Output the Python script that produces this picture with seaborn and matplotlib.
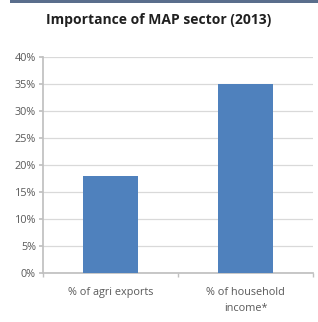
import matplotlib
matplotlib.use("Agg")
import matplotlib.pyplot as plt
import seaborn as sns
import pandas as pd
from matplotlib.ticker import PercentFormatter, FixedLocator

categories = ["% of agri exports", "% of household\nincome*"]
values = [0.18, 0.35]
yticks = [0, 0.05, 0.10, 0.15, 0.20, 0.25, 0.30, 0.35, 0.40]
title = "Importance of MAP sector (2013)"

sns.set_theme(style="white")
plt.rcParams['font.family'] = ['Open Sans', 'DejaVu Sans']

df = pd.DataFrame({"cat": categories, "val": values})

fig = plt.figure(figsize=(3.18, 3.22), dpi=100)
fig.patch.set_facecolor("white")
ax = fig.add_axes([0.135, 0.152, 0.849, 0.671])

sns.barplot(data=df, x="cat", y="val", color="#4f81bd", saturation=1,
            width=0.41, ax=ax, zorder=3, linewidth=0)

ax.set_ylim(0, 0.40)
ax.set_xlim(-0.5, 1.5)
ax.set_yticks(yticks)
ax.yaxis.set_major_formatter(PercentFormatter(1.0, decimals=0))
ax.grid(axis="y", color="#d9d9d9", linewidth=0.9, zorder=0)
ax.set_axisbelow(True)
ax.set_xlabel("")
ax.set_ylabel("")
for s in ["top", "right"]:
    ax.spines[s].set_visible(False)
ax.spines["left"].set_color("#c0c0c0")
ax.spines["bottom"].set_color("#c0c0c0")
ax.tick_params(axis="y", left=True, length=3, color="#c0c0c0", labelsize=7.8, labelcolor="#595959", pad=2)
ax.tick_params(axis="x", bottom=False, labelsize=7.8, labelcolor="#595959", pad=4)
for lbl in ax.get_xticklabels():
    lbl.set_linespacing(1.6)
ax.xaxis.set_minor_locator(FixedLocator([-0.5, 0.5, 1.5]))
ax.tick_params(axis="x", which="minor", bottom=True, length=3, color="#c0c0c0")

fig.text(0.50, 0.937, title, ha="center", va="center", fontsize=10,
         fontweight="bold", color="#202020")

# top banner strip
fig.add_artist(plt.Rectangle((0.03, 0.99), 0.97, 0.01, transform=fig.transFigure,
                             color="#5a6e8c", lw=0))

fig.savefig("out.png", dpi=100, facecolor="white")
